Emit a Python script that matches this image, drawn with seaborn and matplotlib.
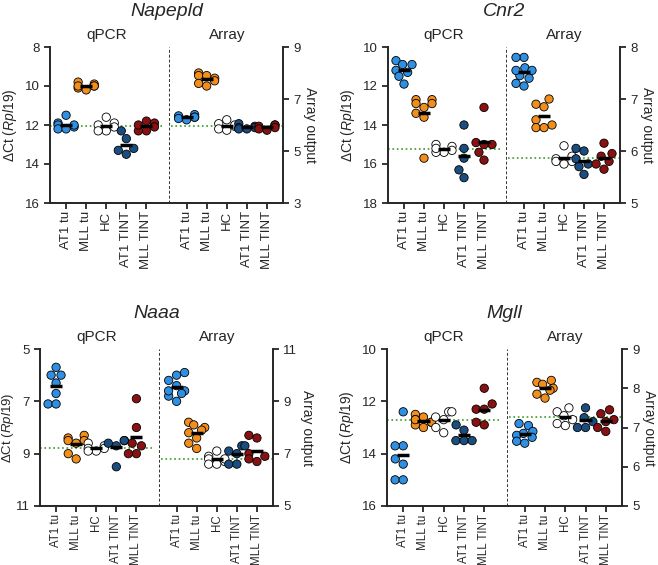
import numpy as np
import pandas as pd
import matplotlib
matplotlib.use("Agg")
import matplotlib.pyplot as plt
import seaborn as sns

sns.set_style("ticks")
plt.rcParams['font.family'] = ['Liberation Sans', 'DejaVu Sans']
plt.rcParams['mathtext.fontset'] = 'custom'
plt.rcParams['mathtext.it'] = 'Liberation Sans:italic'
plt.rcParams['mathtext.rm'] = 'Liberation Sans'

groups = ["AT1 tu", "MLL tu", "HC", "AT1 TINT", "MLL TINT"]
colors = ["#2E8FE3", "#F28E1C", "#FFFFFF", "#1B4E80", "#8A1111"]

napepld_q = [[11.5, 11.9, 12.0, 12.1, 12.2, 12.2, 12.0], [9.8, 9.9, 10.0, 10.0, 10.1, 10.2, 10.0],
             [11.6, 11.9, 12.0, 12.3, 12.3, 12.1], [12.3, 12.7, 13.2, 13.5, 13.3],
             [11.8, 11.9, 12.1, 12.3, 12.3, 12.0]]
napepld_a = [[6.4, 6.35, 6.3, 6.3, 6.25, 6.2], [8.0, 7.9, 7.8, 7.7, 7.6, 7.5, 7.9],
             [6.2, 6.05, 5.95, 5.85, 5.8, 6.0], [6.05, 5.95, 5.9, 5.85, 5.85, 5.9],
             [6.0, 6.0, 5.95, 5.9, 5.85, 5.8]]
cnr2_q = [[10.7, 10.9, 10.9, 11.2, 11.5, 11.9, 11.3], [12.7, 12.7, 12.9, 12.9, 13.1, 13.4, 13.6, 15.7],
          [15.0, 15.1, 15.3, 15.4, 15.4, 15.2], [14.0, 15.2, 15.7, 16.3, 16.7],
          [13.1, 14.9, 15.0, 15.4, 15.8, 15.0]]
cnr2_a = [[7.8, 7.8, 7.6, 7.55, 7.45, 7.4, 7.3, 7.25, 7.55], [7.0, 6.9, 6.85, 6.6, 6.5, 6.45, 6.45],
          [6.1, 5.9, 5.85, 5.8, 5.8, 5.75], [6.0, 6.05, 5.85, 5.75, 5.7, 5.55],
          [6.15, 5.95, 5.9, 5.8, 5.75, 5.65]]
naaa_q = [[5.7, 6.0, 6.0, 6.3, 6.7, 7.1, 7.1], [8.3, 8.4, 8.5, 8.5, 8.6, 9.0, 9.2],
          [8.6, 8.7, 8.8, 8.9, 8.9, 8.8], [8.5, 8.5, 8.6, 8.7, 9.5],
          [6.9, 8.0, 8.6, 9.0, 9.0, 8.7]]
naaa_a = [[10.1, 10.0, 9.8, 9.6, 9.4, 9.3, 9.2, 9.0, 9.4], [8.2, 8.1, 8.0, 7.9, 7.8, 7.6, 7.4, 7.2],
          [7.1, 6.9, 6.8, 6.7, 6.6, 6.6, 6.8], [7.3, 7.3, 7.1, 7.0, 6.6, 6.6],
          [7.7, 7.6, 7.0, 6.9, 6.8, 6.7]]
mgll_q = [[12.4, 13.7, 13.7, 14.2, 14.4, 15.0, 15.0], [12.5, 12.6, 12.7, 12.8, 12.9, 13.0, 12.7, 12.8],
          [12.4, 12.4, 12.7, 13.0, 13.2, 12.6], [12.9, 13.1, 13.5, 13.5, 13.5],
          [11.5, 12.1, 12.3, 12.3, 12.8, 12.9]]
mgll_a = [[7.1, 7.05, 6.9, 6.85, 6.8, 6.75, 6.65, 6.6], [8.2, 8.15, 8.1, 8.0, 7.95, 7.85, 7.75],
          [7.5, 7.4, 7.3, 7.2, 7.1, 7.05], [7.5, 7.25, 7.15, 7.0, 7.0],
          [7.45, 7.35, 7.2, 7.15, 7.0, 6.9]]

panels = [
    ("Napepld", napepld_q, napepld_a, (8, 16), [8, 10, 12, 14, 16], (3, 9), [3, 5, 7, 9]),
    ("Cnr2", cnr2_q, cnr2_a, (10, 18), [10, 12, 14, 16, 18], (5, 8), [5, 6, 7, 8]),
    ("Naaa", naaa_q, naaa_a, (5, 11), [5, 7, 9, 11], (5, 11), [5, 7, 9, 11]),
    ("Mgll", mgll_q, mgll_a, (10, 16), [10, 12, 14, 16], (5, 9), [5, 6, 7, 8, 9]),
]
# axes rectangles in pixels: left, right, top, bottom
rects = [(50, 283, 47, 203), (388, 620, 47, 203), (40, 273, 349, 506), (387, 622, 349, 506)]

W, H = 658, 565
fig = plt.figure(figsize=(W / 100, H / 100), dpi=100)
qpos = [0, 1, 2, 3, 4]
apos = [6, 7, 8, 9, 10]
pal = dict(zip(groups, colors))

def frame(vals, pos):
    rows = []
    for g, p, v in zip(groups, pos, vals):
        for x in v:
            rows.append((p, x, g))
    return pd.DataFrame(rows, columns=["pos", "val", "group"])

for i, ((name, q, a, ql, qt, al, at), (l, r, t, b)) in enumerate(zip(panels, rects)):
    hpx = b - t
    ax = fig.add_axes([l / W, 1 - b / H, (r - l) / W, hpx / H])
    ax2 = ax.twinx()
    for axx, vals, pos in ((ax, q, qpos), (ax2, a, apos)):
        df = frame(vals, pos)
        sns.swarmplot(data=df, x="pos", y="val", hue="group", palette=pal, native_scale=True,
                      size=6, edgecolor="black", linewidth=0.6, legend=False, ax=axx, zorder=3)
        for p, v in zip(pos, vals):
            axx.hlines(np.mean(v), p - 0.3, p + 0.3, color="black", lw=2.5, zorder=4)
    ax.set_xlim(-0.8, 10.8)
    ax.set_ylim(ql[1], ql[0])
    ax.set_yticks(qt)
    ax2.set_ylim(*al)
    ax2.set_yticks(at)
    ax.axvline(5.1, color="#333333", lw=0.7, ls=(0, (3, 2)))
    ax.axhline(np.mean(q[2]), xmin=0, xmax=(4.8 + 0.8) / 11.6, color="#3a9a2a", lw=1.2, ls=":")
    ax2.axhline(np.mean(a[2]), xmin=(5.2 + 0.8) / 11.6, xmax=1, color="#3a9a2a", lw=1.2, ls=":")
    ax.set_xticks(qpos + apos)
    ax.set_xticklabels(groups + groups, rotation=90, fontsize=9.5 if i < 2 else 8.3)
    ax.set_xlabel("")
    ax2.set_xlabel("")
    ax.set_ylabel(r"ΔCt ($\mathit{Rpl19}$)", fontsize=10 if i != 2 else 9.5, labelpad=4 if i != 2 else 0)
    ax2.set_ylabel("Array output", fontsize=10, rotation=270, labelpad=12)
    for axx in (ax, ax2):
        axx.tick_params(axis="y", labelsize=9.5, width=1.3, length=4)
        axx.tick_params(axis="x", width=1.3, length=4, pad=2)
        axx.spines["top"].set_visible(False)
        for s in ("left", "right", "bottom"):
            axx.spines[s].set_linewidth(1.4)
    ax.spines["right"].set_visible(False)
    ax2.spines["left"].set_visible(False)
    ax2.spines["bottom"].set_visible(False)
    ax.text((2 + 0.8) / 11.6, 1 + 12 / hpx, "qPCR", transform=ax.transAxes, ha="center", va="center", fontsize=11)
    ax.text((8 + 0.8) / 11.6, 1 + 12 / hpx, "Array", transform=ax.transAxes, ha="center", va="center", fontsize=11)
    ax.text(0.5, 1 + 35 / hpx, name, transform=ax.transAxes, ha="center", va="center", fontsize=14, style="italic")

fig.savefig("out.png", dpi=100)
